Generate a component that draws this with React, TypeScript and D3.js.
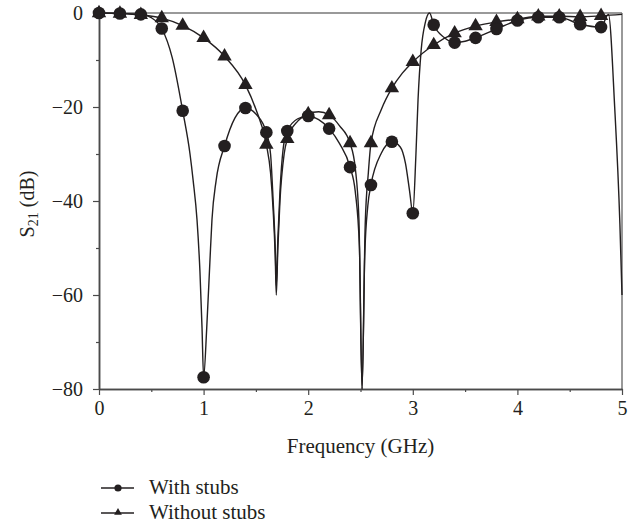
import { useRef, useEffect } from 'react';
import * as d3 from 'd3';

const W = 643;
const H = 527;
const MARGIN = { top: 13, right: 21, bottom: 138, left: 99 };

// marker positions (GHz)
const markerFreq = [0, 0.2, 0.4, 0.6, 0.8, 1.0, 1.2, 1.4, 1.6, 1.8, 2.0, 2.2, 2.4, 2.6, 2.8, 3.0, 3.2, 3.4, 3.6, 3.8, 4.0, 4.2, 4.4, 4.6, 4.8];
const withMarkers = [0, -0.1, -0.3, -3.3, -20.8, -77.5, -28.3, -20.2, -25.4, -25.1, -21.9, -24.6, -32.8, -36.6, -27.4, -42.6, -2.5, -6.3, -5.3, -3.4, -1.6, -0.9, -0.9, -2.4, -3.0];
const withoutMarkers = [0, -0.1, -0.4, -1.1, -2.7, -5.3, -9.2, -15.3, -28.0, -26.8, -21.5, -21.7, -27.7, -27.7, -16.0, -10.4, -6.8, -4.3, -2.8, -1.9, -1.3, -0.7, -0.7, -0.8, -0.6];

// traced curves (GHz, dB)
const withTrace: [number, number][] = [
  [0, 0], [0.2, -0.1], [0.4, -0.3], [0.5, -1.0], [0.6, -3.3], [0.7, -9.5], [0.8, -20.8],
  [0.87, -30], [0.9, -35.6], [0.937, -44], [0.965, -55], [0.985, -67], [1.0, -77.5],
  [1.03, -67], [1.06, -53], [1.08, -44], [1.12, -35.6], [1.2, -28.3], [1.3, -22.3],
  [1.4, -20.2], [1.5, -21.5], [1.6, -25.4], [1.64, -30], [1.665, -40], [1.685, -50],
  [1.695, -58], [1.71, -48], [1.73, -38], [1.76, -29], [1.8, -25.1], [1.9, -22.5],
  [2.0, -21.9], [2.1, -22.7], [2.2, -24.6], [2.3, -27.8], [2.4, -32.8], [2.45, -38],
  [2.49, -50], [2.515, -80], [2.54, -52], [2.57, -41], [2.6, -36.6], [2.7, -29.8],
  [2.8, -27.4], [2.88, -28.5], [2.93, -32], [2.97, -38], [3.0, -42.6], [3.03, -30],
  [3.05, -18.5], [3.08, -7.9], [3.12, -2], [3.16, 0], [3.2, -2.5], [3.3, -5.2],
  [3.4, -6.3], [3.5, -6.0], [3.6, -5.3], [3.8, -3.4], [4.0, -1.6], [4.2, -0.9],
  [4.4, -0.9], [4.6, -2.4], [4.8, -3.0], [4.87, -0.3], [4.93, -20], [4.98, -45], [5.0, -60],
];
const withoutTrace: [number, number][] = [
  [0, 0], [0.2, -0.1], [0.4, -0.4], [0.6, -1.1], [0.8, -2.7], [1.0, -5.3], [1.2, -9.2],
  [1.4, -15.3], [1.5, -20.5], [1.6, -28.0], [1.64, -34], [1.665, -42], [1.685, -52],
  [1.695, -60], [1.71, -50], [1.73, -40], [1.77, -30], [1.8, -26.8], [1.9, -23],
  [2.0, -21.5], [2.1, -21.0], [2.2, -21.7], [2.3, -24], [2.4, -27.7], [2.45, -33],
  [2.485, -44], [2.515, -80], [2.545, -45], [2.575, -34], [2.6, -27.7], [2.7, -20.5],
  [2.8, -16], [2.9, -12.8], [3.0, -10.4], [3.2, -6.8], [3.4, -4.3], [3.6, -2.8],
  [3.8, -1.9], [4.0, -1.3], [4.2, -0.7], [4.4, -0.7], [4.6, -0.8], [4.8, -0.6], [5.0, -0.3],
];

const xMajor = [0, 1, 2, 3, 4, 5];
const xMinor = [0.5, 1.5, 2.5, 3.5, 4.5];
const yMajor = [0, -20, -40, -60, -80];
const yMinor = [-10, -30, -50, -70];

const INK = '#231f20';
const AXIS = '#4a4a4a';
const FONT = '"Liberation Serif", "Times New Roman", serif';

export default function App() {
  const svgRef = useRef<SVGSVGElement>(null);

  useEffect(() => {
    const svg = d3.select(svgRef.current);
    svg.selectAll('*').remove();

    const x0 = MARGIN.left;
    const x1 = W - MARGIN.right;
    const y0 = MARGIN.top;
    const y1 = H - MARGIN.bottom;

    const x = d3.scaleLinear().domain([0, 5]).range([x0, x1]);
    const y = d3.scaleLinear().domain([-80, 0]).range([y1, y0]);

    // frame (top / right)
    svg.append('line').attr('x1', x0).attr('x2', x1).attr('y1', y0).attr('y2', y0)
      .attr('stroke', '#777').attr('stroke-width', 1.5);
    svg.append('line').attr('x1', x1).attr('x2', x1).attr('y1', y0).attr('y2', y1)
      .attr('stroke', '#777').attr('stroke-width', 1.5);

    // --- Axes ---
    const styleAxis = (a: any) => {
      a.select('.domain').attr('stroke', AXIS).attr('stroke-width', 1.5);
      a.selectAll('line').attr('stroke', AXIS).attr('stroke-width', 1.2);
      a.selectAll('text').attr('fill', INK).attr('font-family', FONT).attr('font-size', 20);
    };

    svg.append('g')
      .attr('transform', `translate(0,${y1})`)
      .call(d3.axisBottom(x).tickValues(xMinor).tickSize(3).tickSizeOuter(0).tickFormat(() => ''))
      .call(styleAxis);
    svg.append('g')
      .attr('transform', `translate(0,${y1})`)
      .call(d3.axisBottom(x).tickValues(xMajor).tickSize(6).tickSizeOuter(0).tickPadding(6).tickFormat(d3.format('d')))
      .call(styleAxis);

    svg.append('g')
      .attr('transform', `translate(${x0},0)`)
      .call(d3.axisLeft(y).tickValues(yMinor).tickSize(3).tickSizeOuter(0).tickFormat(() => ''))
      .call(styleAxis);
    svg.append('g')
      .attr('transform', `translate(${x0},0)`)
      .call(d3.axisLeft(y).tickValues(yMajor).tickSize(6).tickSizeOuter(0).tickPadding(10)
        .tickFormat((d: any) => (d < 0 ? '\u2212' + Math.abs(d) : String(d))))
      .call(styleAxis);

    // Axis labels
    svg.append('text')
      .attr('x', (x0 + x1) / 2)
      .attr('y', 453)
      .attr('text-anchor', 'middle')
      .attr('font-family', FONT)
      .attr('font-size', 21)
      .attr('fill', INK)
      .text('Frequency (GHz)');

    const yt = svg.append('text')
      .attr('transform', `translate(34,${(y0 + y1) / 2 + 3}) rotate(-90)`)
      .attr('text-anchor', 'middle')
      .attr('font-family', FONT)
      .attr('font-size', 20)
      .attr('fill', INK);
    yt.append('tspan').text('S');
    yt.append('tspan').attr('font-size', 14).attr('dy', 4).text('21');
    yt.append('tspan').attr('dy', -4).text(' (dB)');

    // --- Curves ---
    const plot = svg.append('g');
    const line = d3.line<[number, number]>()
      .x((d) => x(d[0]))
      .y((d) => y(d[1]))
      .curve(d3.curveMonotoneX);

    plot.append('path').attr('d', line(withoutTrace)).attr('fill', 'none')
      .attr('stroke', INK).attr('stroke-width', 1.4);
    plot.append('path').attr('d', line(withTrace)).attr('fill', 'none')
      .attr('stroke', INK).attr('stroke-width', 1.4);

    const tri = d3.symbol(d3.symbolTriangle, 90);
    markerFreq.forEach((f, i) => {
      plot.append('path')
        .attr('d', tri())
        .attr('transform', `translate(${x(f)},${y(withoutMarkers[i])})`)
        .attr('fill', INK);
    });
    markerFreq.forEach((f, i) => {
      plot.append('circle')
        .attr('cx', x(f))
        .attr('cy', y(withMarkers[i]))
        .attr('r', 6.3)
        .attr('fill', INK);
    });

    // --- Legend ---
    const legend = [
      { label: 'With stubs', kind: 'circle', ly: 488 },
      { label: 'Without stubs', kind: 'triangle', ly: 513 },
    ];
    legend.forEach((d) => {
      svg.append('line').attr('x1', 101).attr('x2', 134).attr('y1', d.ly).attr('y2', d.ly)
        .attr('stroke', INK).attr('stroke-width', 1.4);
      if (d.kind === 'circle') {
        svg.append('circle').attr('cx', 118).attr('cy', d.ly).attr('r', 3.6).attr('fill', INK);
      } else {
        svg.append('path').attr('d', d3.symbol(d3.symbolTriangle, 26)())
          .attr('transform', `translate(118,${d.ly - 0.5})`).attr('fill', INK);
      }
      svg.append('text')
        .attr('x', 149)
        .attr('y', d.ly + 6)
        .attr('font-family', FONT)
        .attr('font-size', 21)
        .attr('fill', INK)
        .text(d.label);
    });
  }, []);

  return (
    <svg
      ref={svgRef}
      width={W}
      height={H}
      style={{ position: 'absolute', left: 0, top: 0, background: '#fff' }}
    />
  );
}
